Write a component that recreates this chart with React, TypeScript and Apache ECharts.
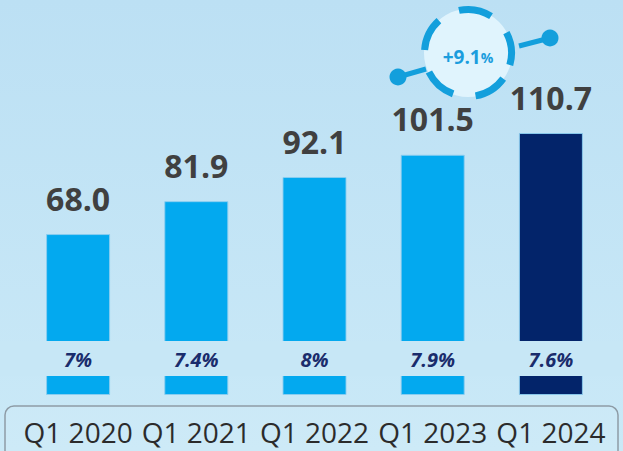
import React, { useEffect, useRef } from "react";
import * as echarts from "echarts";

const categories = ["Q1 2020", "Q1 2021", "Q1 2022", "Q1 2023", "Q1 2024"];
const values = [68.0, 81.9, 92.1, 101.5, 110.7];
const shares = [7, 7.4, 8, 7.9, 7.6];
const growthLabel = "+9.1";

const LIGHT = "#03A9EF";
const DARK = "#03246A";
const RING = "#139FDC";

export default function App() {
  const ref = useRef<HTMLDivElement>(null);
  useEffect(() => {
    if (!ref.current) return;
    const chart = echarts.init(ref.current, undefined, { renderer: "svg" });
    const cx = 468;
    const cy = 53;
    const r = 43.5;
    const dashStarts = [-16, 58, 132, 206, 280];
    const deg = Math.PI / 180;
    const dashes = dashStarts.map((a) => ({
      type: "arc",
      z: 20,
      shape: { cx, cy, r, startAngle: -(a + 44) * deg, endAngle: -a * deg, clockwise: true },
      style: { stroke: RING, lineWidth: 7, fill: "none" },
    }));
    chart.setOption({
      animation: false,
      backgroundColor: new echarts.graphic.LinearGradient(0, 0, 0, 1, [
        { offset: 0, color: "#BCE0F4" },
        { offset: 1, color: "#CAE9F7" },
      ]),
      grid: { left: 19, right: 13, top: 111, bottom: 56 },
      xAxis: {
        type: "category",
        data: categories,
        axisLine: { show: false },
        axisTick: { show: false },
        axisLabel: {
          interval: 0,
          hideOverlap: false,
          margin: 23,
          fontSize: 28,
          color: "#1E1E1E",
          fontFamily: "Open Sans",
        },
      },
      yAxis: { type: "value", min: 0, max: 120, show: false, splitLine: { show: false } },
      graphic: [
        {
          type: "rect",
          z: 5,
          shape: { x: 0, y: 341, width: 623, height: 35 },
          style: { fill: "#C7E7F6" },
        },
        {
          type: "rect",
          z: 1,
          shape: { x: 5, y: 406, width: 613, height: 70, r: 9 },
          style: { fill: "rgba(255,255,255,0.06)", stroke: "#8E9CA6", lineWidth: 1.5 },
        },
        {
          type: "line",
          z: 19,
          shape: { x1: 398, y1: 77, x2: 426, y2: 69 },
          style: { stroke: RING, lineWidth: 5 },
        },
        {
          type: "line",
          z: 19,
          shape: { x1: 519, y1: 46, x2: 550, y2: 38 },
          style: { stroke: RING, lineWidth: 5 },
        },
        { type: "circle", z: 19, shape: { cx: 398, cy: 77, r: 8.5 }, style: { fill: RING } },
        { type: "circle", z: 19, shape: { cx: 550, cy: 38, r: 8.5 }, style: { fill: RING } },
        { type: "circle", z: 19, shape: { cx, cy, r: 44 }, style: { fill: "#E0F4FD" } },
        ...dashes,
        {
          type: "text",
          z: 21,
          x: cx,
          y: 57,
          style: {
            text: "{a|" + growthLabel + "}{b|%}",
            align: "center",
            verticalAlign: "middle",
            rich: {
              a: { fontSize: 19, fontWeight: "bold", fill: "#1B9DDD", fontFamily: "Open Sans" },
              b: { fontSize: 14, fontWeight: "bold", fill: "#1B9DDD", fontFamily: "Open Sans" },
            },
          },
        },
      ],
      series: [
        {
          type: "bar",
          z: 2,
          barWidth: 64,
          data: values.map((v, i) => ({
            value: v,
            itemStyle: { color: i === values.length - 1 ? DARK : LIGHT },
          })),
          itemStyle: { borderColor: "rgba(140,205,240,0.9)", borderWidth: 1 },
          label: {
            show: true,
            position: "top",
            distance: 20,
            formatter: (p: any) => Number(p.value).toFixed(1),
            fontSize: 32,
            fontWeight: "bold",
            color: "#404040",
            fontFamily: "Open Sans",
          },
        },
        {
          type: "custom",
          z: 10,
          data: shares.map((v, i) => [i, v]),
          renderItem: (params: any, api: any) => {
            const x = api.coord([api.value(0), 0])[0];
            return {
              type: "text",
              x,
              y: 359,
              style: {
                text: api.value(1) + "%",
                fill: "#1A2C6C",
                fontSize: 20,
                fontWeight: "bold",
                fontStyle: "italic",
                fontFamily: "Open Sans",
                align: "center",
                verticalAlign: "middle",
              },
            };
          },
        },
      ],
    });
    return () => chart.dispose();
  }, []);
  return (
    <div
      ref={ref}
      style={{ position: "fixed", left: 0, top: 0, width: 623, height: 451 }}
    />
  );
}
